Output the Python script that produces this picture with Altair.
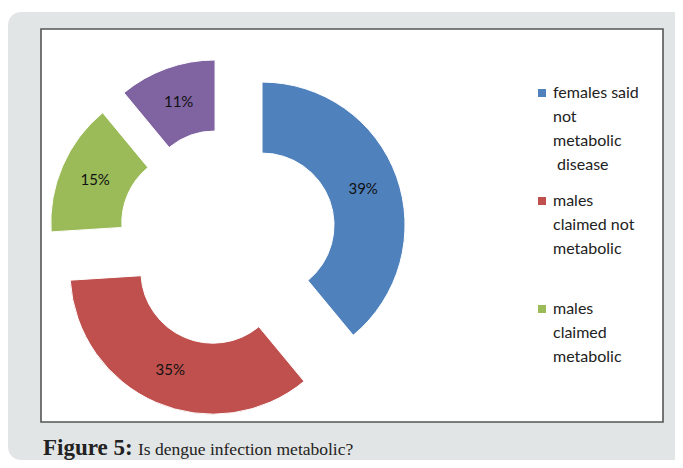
import altair as alt
import pandas as pd

# ---- data ----
categories = ["females said not metabolic disease", "males claimed not metabolic",
              "males claimed metabolic", "females said metabolic disease"]
values = [39, 35, 15, 11]
colors = ["#4F81BD", "#C0504D", "#9BBB59", "#8064A2"]
legend_labels = ["females said\nnot\nmetabolic\n disease",
                 "males\nclaimed not\nmetabolic\n",
                 "males\nclaimed\nmetabolic"]
caption_bold = "Figure 5:"
caption_rest = "Is dengue infection metabolic?"

# ---- layout constants ----
W, H = 622, 393
PAD_L, PAD_T, PAD_R, PAD_B = 33, 21, 12, 38
CX, CY = 186.5, 208.5
R_OUT, R_IN = 143, 72
EXPLODE = 36.7
LABEL_R = (R_OUT + R_IN) / 2

pie_df = pd.DataFrame({"category": categories, "value": values,
                       "order": list(range(len(categories)))})

rows = []
g = 0
for i, lab in enumerate(legend_labels):
    for j, line in enumerate(lab.split("\n")):
        rows.append({"entry": i, "line": j, "g": g, "text": line.strip(),
                     "indent": len(line) - len(line.lstrip()),
                     "category": categories[i]})
        g += 1
leg_df = pd.DataFrame(rows)

color = alt.Color("category:N", scale=alt.Scale(domain=categories, range=colors), legend=None)

base = alt.Chart(pie_df).transform_joinaggregate(
    total="sum(value)"
).transform_window(
    cum="sum(value)", sort=[alt.SortField("order")], frame=[None, 0]
).transform_calculate(
    t0="2*PI*(datum.cum - datum.value)/datum.total",
    t1="2*PI*datum.cum/datum.total",
).transform_calculate(
    mid="(datum.t0 + datum.t1)/2"
).transform_calculate(
    px=f"{CX} + {EXPLODE}*sin(datum.mid)",
    py=f"{CY} - {EXPLODE}*cos(datum.mid)",
).transform_calculate(
    lx=f"datum.px + {LABEL_R}*sin(datum.mid)",
    ly=f"datum.py - {LABEL_R}*cos(datum.mid)",
    lab="datum.value + '%'",
)

arcs = base.mark_arc(outerRadius=R_OUT, innerRadius=R_IN, stroke="white", strokeWidth=1).encode(
    theta=alt.Theta("t0:Q", scale=None, stack=None),
    theta2="t1:Q",
    x=alt.X("px:Q", scale=None),
    y=alt.Y("py:Q", scale=None),
    color=color,
)

slice_labels = base.mark_text(font="Lato", fontSize=15, color="#111").encode(
    x=alt.X("lx:Q", scale=None),
    y=alt.Y("ly:Q", scale=None),
    text="lab:N",
)

leg = alt.Chart(leg_df).transform_calculate(
    ypos="64 + datum.g*24 + datum.entry*12",
    xpos="512 + datum.indent*4",
)
leg_text = leg.mark_text(font="Lato", fontSize=16, align="left", baseline="middle", color="#222").encode(
    x=alt.X("xpos:Q", scale=None),
    y=alt.Y("ypos:Q", scale=None),
    text="text:N",
)
leg_sq = leg.transform_filter("datum.line == 0").mark_square(size=64, opacity=1).encode(
    x=alt.value(501),
    y=alt.Y("ypos:Q", scale=None),
    color=color,
)

gray = alt.Chart(pie_df).mark_rect(fill="#E2E5E5", cornerRadiusTopLeft=13,
                                   cornerRadiusBottomLeft=13).encode(
    x=alt.value(-PAD_L), x2=alt.value(W + PAD_R), y=alt.value(-17), y2=alt.value(H + PAD_B)
).transform_filter("datum.order == 0")
white = alt.Chart(pie_df).mark_rect(fill="white", stroke="#555", strokeWidth=1.6).encode(
    x=alt.value(0), x2=alt.value(W), y=alt.value(0), y2=alt.value(H)
).transform_filter("datum.order == 0")

cap1 = alt.Chart(pie_df).mark_text(font="Liberation Serif", fontSize=23, fontWeight="bold",
                                   align="left", baseline="alphabetic", color="#222").encode(
    x=alt.value(2), y=alt.value(426), text=alt.value(caption_bold)
).transform_filter("datum.order == 0")
cap2 = alt.Chart(pie_df).mark_text(font="Liberation Serif", fontSize=17.5,
                                   align="left", baseline="alphabetic", color="#222").encode(
    x=alt.value(97), y=alt.value(426), text=alt.value(caption_rest)
).transform_filter("datum.order == 0")

chart = alt.layer(gray, white, arcs, slice_labels, leg_sq, leg_text, cap1, cap2).properties(
    width=W, height=H,
    autosize=alt.AutoSizeParams(type="none"),
    padding={"left": PAD_L, "top": PAD_T, "right": PAD_R, "bottom": PAD_B},
    background="white",
).configure_view(stroke=None)

chart.save("out.html", embed_options={"renderer": "svg", "actions": False})
